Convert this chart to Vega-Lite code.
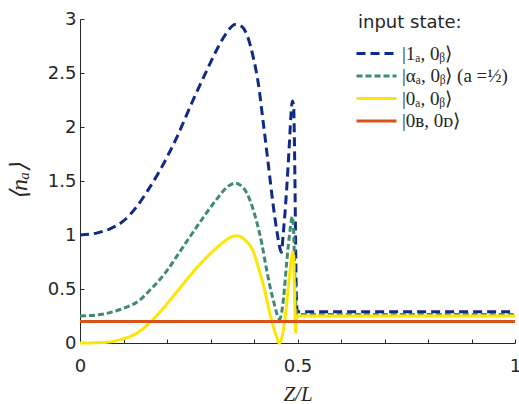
{
  "$schema": "https://vega.github.io/schema/vega-lite/v6.json",
  "width": 435,
  "height": 324,
  "autosize": {"type": "none"},
  "padding": {"left": 80, "top": 19, "right": 4, "bottom": 61},
  "background": "white",
  "config": {
    "view": {"stroke": null},
    "font": "DejaVu Sans",
    "axis": {
      "grid": false,
      "domainColor": "#262626",
      "domainWidth": 1,
      "tickColor": "#262626",
      "tickWidth": 1,
      "tickSize": -4,
      "labelColor": "#262626",
      "labelFont": "DejaVu Sans",
      "labelFontSize": 18,
      "labelOverlap": false,
      "labelFlush": false,
      "titleColor": "#262626",
      "titleFont": "Liberation Serif",
      "titleFontStyle": "italic",
      "titleFontWeight": "normal"
    },
    "legend": {
      "orient": "none",
      "legendX": 278,
      "legendY": -5,
      "titleFont": "DejaVu Sans",
      "titleFontSize": 18,
      "titleFontWeight": "normal",
      "titleColor": "#262626",
      "titlePadding": 10,
      "labelFont": "Liberation Serif",
      "labelFontSize": 19,
      "labelColor": "#262626",
      "labelLimit": 0,
      "labelOffset": 14,
      "symbolType": "M-2,0H2",
      "symbolSize": 400,
      "symbolOffset": 7,
      "symbolStrokeWidth": 3,
      "rowPadding": 0.5,
      "padding": 0
    }
  },
  "data": {
    "values": [
      {"state": "|1ₐ, 0ᵦ⟩", "z": 0, "n": 1.0},
      {"state": "|1ₐ, 0ᵦ⟩", "z": 0.04, "n": 1.02},
      {"state": "|1ₐ, 0ᵦ⟩", "z": 0.07, "n": 1.06},
      {"state": "|1ₐ, 0ᵦ⟩", "z": 0.1, "n": 1.13},
      {"state": "|1ₐ, 0ᵦ⟩", "z": 0.13, "n": 1.26},
      {"state": "|1ₐ, 0ᵦ⟩", "z": 0.157, "n": 1.42},
      {"state": "|1ₐ, 0ᵦ⟩", "z": 0.184, "n": 1.6},
      {"state": "|1ₐ, 0ᵦ⟩", "z": 0.222, "n": 1.9},
      {"state": "|1ₐ, 0ᵦ⟩", "z": 0.26, "n": 2.25},
      {"state": "|1ₐ, 0ᵦ⟩", "z": 0.291, "n": 2.52},
      {"state": "|1ₐ, 0ᵦ⟩", "z": 0.315, "n": 2.72},
      {"state": "|1ₐ, 0ᵦ⟩", "z": 0.335, "n": 2.86},
      {"state": "|1ₐ, 0ᵦ⟩", "z": 0.357, "n": 2.95},
      {"state": "|1ₐ, 0ᵦ⟩", "z": 0.372, "n": 2.93},
      {"state": "|1ₐ, 0ᵦ⟩", "z": 0.385, "n": 2.84},
      {"state": "|1ₐ, 0ᵦ⟩", "z": 0.398, "n": 2.65},
      {"state": "|1ₐ, 0ᵦ⟩", "z": 0.41, "n": 2.4},
      {"state": "|1ₐ, 0ᵦ⟩", "z": 0.421, "n": 2.05},
      {"state": "|1ₐ, 0ᵦ⟩", "z": 0.433, "n": 1.65},
      {"state": "|1ₐ, 0ᵦ⟩", "z": 0.444, "n": 1.28},
      {"state": "|1ₐ, 0ᵦ⟩", "z": 0.454, "n": 1.0},
      {"state": "|1ₐ, 0ᵦ⟩", "z": 0.46, "n": 0.87},
      {"state": "|1ₐ, 0ᵦ⟩", "z": 0.463, "n": 0.84},
      {"state": "|1ₐ, 0ᵦ⟩", "z": 0.467, "n": 1.0},
      {"state": "|1ₐ, 0ᵦ⟩", "z": 0.475, "n": 1.42},
      {"state": "|1ₐ, 0ᵦ⟩", "z": 0.481, "n": 1.82},
      {"state": "|1ₐ, 0ᵦ⟩", "z": 0.486, "n": 2.17},
      {"state": "|1ₐ, 0ᵦ⟩", "z": 0.488, "n": 2.24},
      {"state": "|1ₐ, 0ᵦ⟩", "z": 0.491, "n": 2.2},
      {"state": "|1ₐ, 0ᵦ⟩", "z": 0.494, "n": 1.55},
      {"state": "|1ₐ, 0ᵦ⟩", "z": 0.496, "n": 0.8},
      {"state": "|1ₐ, 0ᵦ⟩", "z": 0.498, "n": 0.35},
      {"state": "|1ₐ, 0ᵦ⟩", "z": 0.5, "n": 0.29},
      {"state": "|1ₐ, 0ᵦ⟩", "z": 1, "n": 0.29},

      {"state": "|αₐ, 0ᵦ⟩  (a =½)", "z": 0, "n": 0.25},
      {"state": "|αₐ, 0ᵦ⟩  (a =½)", "z": 0.046, "n": 0.263},
      {"state": "|αₐ, 0ᵦ⟩  (a =½)", "z": 0.092, "n": 0.31},
      {"state": "|αₐ, 0ᵦ⟩  (a =½)", "z": 0.138, "n": 0.4},
      {"state": "|αₐ, 0ᵦ⟩  (a =½)", "z": 0.161, "n": 0.49},
      {"state": "|αₐ, 0ᵦ⟩  (a =½)", "z": 0.184, "n": 0.59},
      {"state": "|αₐ, 0ᵦ⟩  (a =½)", "z": 0.2, "n": 0.67},
      {"state": "|αₐ, 0ᵦ⟩  (a =½)", "z": 0.222, "n": 0.8},
      {"state": "|αₐ, 0ᵦ⟩  (a =½)", "z": 0.237, "n": 0.89},
      {"state": "|αₐ, 0ᵦ⟩  (a =½)", "z": 0.276, "n": 1.12},
      {"state": "|αₐ, 0ᵦ⟩  (a =½)", "z": 0.314, "n": 1.33},
      {"state": "|αₐ, 0ᵦ⟩  (a =½)", "z": 0.34, "n": 1.45},
      {"state": "|αₐ, 0ᵦ⟩  (a =½)", "z": 0.357, "n": 1.48},
      {"state": "|αₐ, 0ᵦ⟩  (a =½)", "z": 0.375, "n": 1.44},
      {"state": "|αₐ, 0ᵦ⟩  (a =½)", "z": 0.39, "n": 1.33},
      {"state": "|αₐ, 0ᵦ⟩  (a =½)", "z": 0.405, "n": 1.14},
      {"state": "|αₐ, 0ᵦ⟩  (a =½)", "z": 0.418, "n": 0.92},
      {"state": "|αₐ, 0ᵦ⟩  (a =½)", "z": 0.428, "n": 0.7},
      {"state": "|αₐ, 0ᵦ⟩  (a =½)", "z": 0.437, "n": 0.52},
      {"state": "|αₐ, 0ᵦ⟩  (a =½)", "z": 0.448, "n": 0.34},
      {"state": "|αₐ, 0ᵦ⟩  (a =½)", "z": 0.455, "n": 0.24},
      {"state": "|αₐ, 0ᵦ⟩  (a =½)", "z": 0.459, "n": 0.22},
      {"state": "|αₐ, 0ᵦ⟩  (a =½)", "z": 0.463, "n": 0.27},
      {"state": "|αₐ, 0ᵦ⟩  (a =½)", "z": 0.468, "n": 0.42},
      {"state": "|αₐ, 0ᵦ⟩  (a =½)", "z": 0.475, "n": 0.74},
      {"state": "|αₐ, 0ᵦ⟩  (a =½)", "z": 0.483, "n": 1.05},
      {"state": "|αₐ, 0ᵦ⟩  (a =½)", "z": 0.488, "n": 1.17},
      {"state": "|αₐ, 0ᵦ⟩  (a =½)", "z": 0.491, "n": 1.05},
      {"state": "|αₐ, 0ᵦ⟩  (a =½)", "z": 0.494, "n": 0.6},
      {"state": "|αₐ, 0ᵦ⟩  (a =½)", "z": 0.497, "n": 0.3},
      {"state": "|αₐ, 0ᵦ⟩  (a =½)", "z": 0.5, "n": 0.265},
      {"state": "|αₐ, 0ᵦ⟩  (a =½)", "z": 1, "n": 0.265},

      {"state": "|0ₐ, 0ᵦ⟩", "z": 0, "n": 0},
      {"state": "|0ₐ, 0ᵦ⟩", "z": 0.046, "n": 0.003},
      {"state": "|0ₐ, 0ᵦ⟩", "z": 0.092, "n": 0.03},
      {"state": "|0ₐ, 0ᵦ⟩", "z": 0.138, "n": 0.11},
      {"state": "|0ₐ, 0ᵦ⟩", "z": 0.161, "n": 0.19},
      {"state": "|0ₐ, 0ᵦ⟩", "z": 0.191, "n": 0.32},
      {"state": "|0ₐ, 0ᵦ⟩", "z": 0.222, "n": 0.47},
      {"state": "|0ₐ, 0ᵦ⟩", "z": 0.25, "n": 0.61},
      {"state": "|0ₐ, 0ᵦ⟩", "z": 0.276, "n": 0.73},
      {"state": "|0ₐ, 0ᵦ⟩", "z": 0.314, "n": 0.88},
      {"state": "|0ₐ, 0ᵦ⟩", "z": 0.335, "n": 0.95},
      {"state": "|0ₐ, 0ᵦ⟩", "z": 0.355, "n": 0.99},
      {"state": "|0ₐ, 0ᵦ⟩", "z": 0.365, "n": 0.99},
      {"state": "|0ₐ, 0ᵦ⟩", "z": 0.38, "n": 0.95},
      {"state": "|0ₐ, 0ᵦ⟩", "z": 0.398, "n": 0.85},
      {"state": "|0ₐ, 0ᵦ⟩", "z": 0.41, "n": 0.7},
      {"state": "|0ₐ, 0ᵦ⟩", "z": 0.42, "n": 0.56},
      {"state": "|0ₐ, 0ᵦ⟩", "z": 0.429, "n": 0.41},
      {"state": "|0ₐ, 0ᵦ⟩", "z": 0.437, "n": 0.27},
      {"state": "|0ₐ, 0ᵦ⟩", "z": 0.444, "n": 0.16},
      {"state": "|0ₐ, 0ᵦ⟩", "z": 0.451, "n": 0.07},
      {"state": "|0ₐ, 0ᵦ⟩", "z": 0.458, "n": 0.0},
      {"state": "|0ₐ, 0ᵦ⟩", "z": 0.465, "n": 0.07},
      {"state": "|0ₐ, 0ᵦ⟩", "z": 0.471, "n": 0.22},
      {"state": "|0ₐ, 0ᵦ⟩", "z": 0.476, "n": 0.4},
      {"state": "|0ₐ, 0ᵦ⟩", "z": 0.481, "n": 0.6},
      {"state": "|0ₐ, 0ᵦ⟩", "z": 0.486, "n": 0.78},
      {"state": "|0ₐ, 0ᵦ⟩", "z": 0.489, "n": 0.84},
      {"state": "|0ₐ, 0ᵦ⟩", "z": 0.491, "n": 0.78},
      {"state": "|0ₐ, 0ᵦ⟩", "z": 0.493, "n": 0.5},
      {"state": "|0ₐ, 0ᵦ⟩", "z": 0.495, "n": 0.2},
      {"state": "|0ₐ, 0ᵦ⟩", "z": 0.496, "n": 0.1},
      {"state": "|0ₐ, 0ᵦ⟩", "z": 0.498, "n": 0.25},
      {"state": "|0ₐ, 0ᵦ⟩", "z": 0.5, "n": 0.25},
      {"state": "|0ₐ, 0ᵦ⟩", "z": 1, "n": 0.25},

      {"state": "|0ʙ, 0ᴅ⟩", "z": 0, "n": 0.2},
      {"state": "|0ʙ, 0ᴅ⟩", "z": 1, "n": 0.2}
    ]
  },
  "mark": {"type": "line", "strokeWidth": 3, "interpolate": "monotone", "clip": false},
  "encoding": {
    "x": {
      "field": "z",
      "type": "quantitative",
      "scale": {"domain": [0, 1], "nice": false},
      "axis": {
        "title": "Z/L",
        "titleFontSize": 21,
        "titlePadding": 8,
        "labelPadding": 18,
        "values": [0, 0.1, 0.2, 0.3, 0.4, 0.5, 0.6, 0.7, 0.8, 0.9, 1],
        "labelExpr": "datum.value == 0 || datum.value == 0.5 || datum.value == 1 ? '' + datum.value : ''"
      }
    },
    "y": {
      "field": "n",
      "type": "quantitative",
      "scale": {"domain": [0, 3], "nice": false},
      "axis": {
        "title": "⟨nₐ⟩",
        "titleFontSize": 24,
        "titlePadding": 16,
        "labelPadding": 8,
        "values": [0, 0.5, 1, 1.5, 2, 2.5, 3],
        "labelExpr": "'' + datum.value"
      }
    },
    "color": {
      "field": "state",
      "type": "nominal",
      "title": "input state:",
      "scale": {
        "domain": ["|1ₐ, 0ᵦ⟩", "|αₐ, 0ᵦ⟩  (a =½)", "|0ₐ, 0ᵦ⟩", "|0ʙ, 0ᴅ⟩"],
        "range": ["#0f2a87", "#3f8b71", "#ffe600", "#d95319"]
      }
    },
    "strokeDash": {
      "field": "state",
      "type": "nominal",
      "title": "input state:",
      "scale": {
        "domain": ["|1ₐ, 0ᵦ⟩", "|αₐ, 0ᵦ⟩  (a =½)", "|0ₐ, 0ᵦ⟩", "|0ʙ, 0ᴅ⟩"],
        "range": [[9, 5], [6, 3], [1, 0], [1, 0]]
      }
    }
  }
}
